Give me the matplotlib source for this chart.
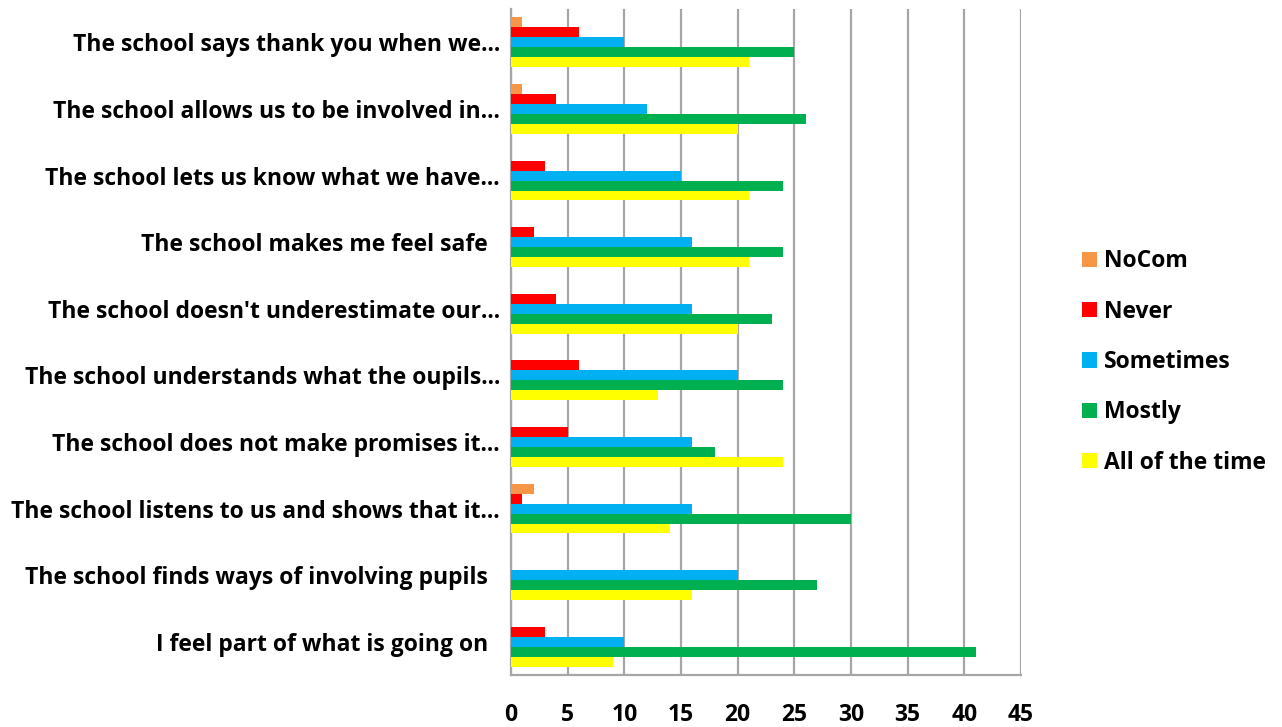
import matplotlib
matplotlib.use("Agg")
import matplotlib.pyplot as plt
import numpy as np

plt.rcParams['font.family'] = ['Open Sans', 'DejaVu Sans']

# categories from bottom to top
questions = [
    "I feel part of what is going on  ",
    "The school finds ways of involving pupils  ",
    "The school listens to us and shows that it...",
    "The school does not make promises it...",
    "The school understands what the oupils...",
    "The school doesn't underestimate our...",
    "The school makes me feel safe  ",
    "The school lets us know what we have...",
    "The school allows us to be involved in...",
    "The school says thank you when we...",
]
nocom = [0, 0, 2, 0, 0, 0, 0, 0, 1, 1]
never = [3, 0, 1, 5, 6, 4, 2, 3, 4, 6]
sometimes = [10, 20, 16, 16, 20, 16, 16, 15, 12, 10]
mostly = [41, 27, 30, 18, 24, 23, 24, 24, 26, 25]
all_time = [9, 16, 14, 24, 13, 20, 21, 21, 20, 21]

series = [
    ("NoCom", nocom, "#F79646"),
    ("Never", never, "#FF0000"),
    ("Sometimes", sometimes, "#00B0F0"),
    ("Mostly", mostly, "#00B050"),
    ("All of the time", all_time, "#FFFF00"),
]

fig = plt.figure(figsize=(12.82, 7.27), dpi=100)
ax = fig.add_axes([0.3986, 0.0715, 0.3978, 0.9161])

y = np.arange(len(questions))
h = 0.15
for i, (name, vals, col) in enumerate(series):
    ax.barh(y + (2 - i) * h, vals, height=h, color=col, label=name, zorder=3)

ax.set_xlim(0, 45)
ax.set_ylim(-0.5, len(questions) - 0.5)
ax.set_xticks(range(0, 46, 5))
ax.set_yticks(y)
ax.set_yticklabels(questions, fontsize=16.5, fontweight="bold")
for lab in ax.get_xticklabels():
    lab.set_fontsize(16.5)
    lab.set_fontweight("bold")
ax.tick_params(axis="x", length=0, pad=20)
ax.tick_params(axis="y", length=0, pad=8)
ax.grid(axis="x", color="#A6A6A6", linewidth=1.6, zorder=0)

for s in ["top", "right"]:
    ax.spines[s].set_visible(False)
for s in ["left", "bottom"]:
    ax.spines[s].set_color("#A6A6A6")
    ax.spines[s].set_linewidth(1.6)

ax.legend(loc="center left", bbox_to_anchor=(1.08, 0.47), frameon=False,
          prop={"size": 16.5, "weight": "bold"}, labelspacing=1.15,
          handlelength=0.65, handleheight=0.65, handletextpad=0.3)

fig.savefig("out.png", dpi=100)
